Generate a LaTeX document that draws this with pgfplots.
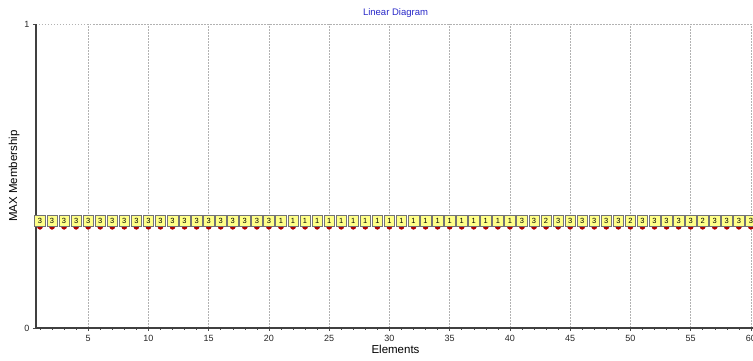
\documentclass[border=0pt]{standalone}
\usepackage{fontspec}
\setmainfont{Liberation Sans}
\usepackage{pgfplots}
\usepackage{pgfplotstable}
\pgfplotsset{compat=1.18}
\definecolor{boxyellow}{HTML}{FFFF88}
\definecolor{dotred}{HTML}{B00000}
\definecolor{titleblue}{HTML}{2828C8}
\pgfplotstableread{
x y c
1 0.333 3
2 0.333 3
3 0.333 3
4 0.333 3
5 0.333 3
6 0.333 3
7 0.333 3
8 0.333 3
9 0.333 3
10 0.333 3
11 0.333 3
12 0.333 3
13 0.333 3
14 0.333 3
15 0.333 3
16 0.333 3
17 0.333 3
18 0.333 3
19 0.333 3
20 0.333 3
21 0.333 1
22 0.333 1
23 0.333 1
24 0.333 1
25 0.333 1
26 0.333 1
27 0.333 1
28 0.333 1
29 0.333 1
30 0.333 1
31 0.333 1
32 0.333 1
33 0.333 1
34 0.333 1
35 0.333 1
36 0.333 1
37 0.333 1
38 0.333 1
39 0.333 1
40 0.333 1
41 0.333 3
42 0.333 3
43 0.333 2
44 0.333 3
45 0.333 3
46 0.333 3
47 0.333 3
48 0.333 3
49 0.333 3
50 0.333 2
51 0.333 3
52 0.333 3
53 0.333 3
54 0.333 3
55 0.333 3
56 0.333 2
57 0.333 3
58 0.333 3
59 0.333 3
60 0.333 3
}\datatable
\begin{document}
\begin{tikzpicture}
\useasboundingbox (-36pt,-33pt) rectangle (717pt,328pt);
\begin{axis}[
  scale only axis,
  width=719pt, height=304pt,
  xmin=0.67, xmax=60.34,
  ymin=0, ymax=1,
  axis x line*=bottom,
  axis y line*=left,
  x axis line style={line width=1.2pt, draw=black!75, -},
  y axis line style={line width=2pt, draw=black!75, -},
  xtick={5,10,...,60},
  minor xtick={1,...,60},
  ytick={0,1},
  tick align=outside,
  major tick length=3pt,
  minor tick length=2pt,
  tick style={black!70, line width=0.5pt},
  xmajorgrids, ymajorgrids,
  major grid style={black!30, dash pattern=on 1.5pt off 1.5pt, line width=0.6pt},
  /pgf/number format/assume math mode=true,
  tick label style={font=\fontsize{9}{9}\selectfont, text=black!85},
  xticklabel style={yshift=-1pt},
  title={Linear Diagram},
  title style={font=\fontsize{9.5}{10}\selectfont, text=titleblue, yshift=-3pt},
  xlabel={Elements},
  ylabel={MAX Membership},
  label style={font=\fontsize{11.5}{12}\selectfont},
  xlabel style={yshift=4pt},
  ylabel style={yshift=-2pt},
  clip=false,
]
\addplot[
  only marks,
  mark=*,
  mark size=2.6pt,
  mark options={fill=dotred, draw=dotred},
  point meta=explicit symbolic,
  nodes near coords,
  every node near coord/.append style={
    anchor=center, yshift=6pt,
    fill=boxyellow, draw=black!55, line width=0.5pt,
    minimum width=10.5pt, minimum height=10.5pt, inner sep=0pt,
    font=\fontsize{7.5}{7.5}\selectfont, text=black},
] table[x=x, y=y, meta=c] {\datatable};
\end{axis}
\end{tikzpicture}
\end{document}
